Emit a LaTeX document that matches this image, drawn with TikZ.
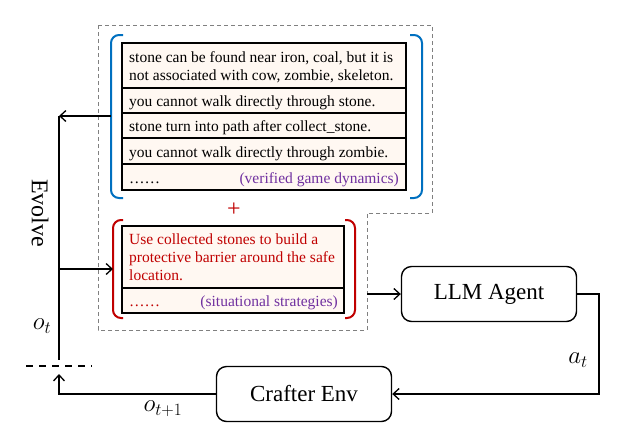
\documentclass[tikz,border=0pt]{standalone}
\usepackage{fontspec}
\setmainfont{Liberation Serif}
\usetikzlibrary{arrows.meta}
\definecolor{bbl}{RGB}{0,112,192}
\definecolor{rrd}{RGB}{192,0,0}
\definecolor{ppl}{RGB}{112,48,160}
\definecolor{cellfill}{RGB}{255,248,242}
\definecolor{dgray}{RGB}{128,128,128}
\begin{document}
\begin{tikzpicture}[x=1pt,y=-1pt,
  cell/.style={draw=black,line width=1.3pt,fill=cellfill},
  rt/.style={anchor=base west,inner sep=0pt,font=\fontsize{15.5}{18}\selectfont},
  rtr/.style={anchor=base east,inner sep=0pt,font=\fontsize{15.5}{18}\selectfont},
  bigbox/.style={draw=black,line width=1.4pt,rounded corners=10pt,minimum width=175pt,minimum height=55pt,font=\fontsize{23}{27}\selectfont},
  conn/.style={line width=1.3pt,-{Straight Barb[length=6pt,width=11pt]}},
  plain/.style={line width=1.3pt},
  lbl/.style={inner sep=0pt,font=\fontsize{25}{30}\selectfont}]
\useasboundingbox (0,0) rectangle (617,437);
% dashed outer region
\draw[dgray,line width=1pt,dash pattern=on 4pt off 3pt] (98,25) -- (432,25) -- (432,213) -- (367,213) -- (367,330) -- (98,330) -- cycle;
% blue table
\draw[cell] (122,43) rectangle (406,190);
\foreach \yy in {88,113,138,164}{\draw[line width=1.3pt] (122,\yy) -- (406,\yy);}
\node[rt] (b1a) at (129,62) {stone can be found near iron, coal, but it is};
\node[rt] (b1b) at (129,80) {not associated with cow, zombie, skeleton.};
\node[rt] (b2) at (129,106) {you cannot walk directly through stone.};
\node[rt] (b3) at (129,131) {stone turn into path after collect\_stone.};
\node[rt] (b4) at (129,157) {you cannot walk directly through zombie.};
\node[rt] (b5) at (129,183) {……};
\node[rtr,text=ppl] (b5r) at (399,183) {(verified game dynamics)};
% blue brackets
\draw[bbl,line width=2pt,rounded corners=8pt] (123,35) -- (111,35) -- (111,198) -- (123,198);
\draw[bbl,line width=2pt,rounded corners=8pt] (410,35) -- (422,35) -- (422,198) -- (410,198);
\coordinate (bl) at (111,116);
% plus
\node[text=rrd,inner sep=0pt,font=\fontsize{24}{28}\selectfont] (plus) at (234,210) {+};
% red table
\draw[cell] (122,226) rectangle (344,313);
\draw[line width=1.3pt] (122,288) -- (344,288);
\node[rt,text=rrd] (r1) at (129,244) {Use collected stones to build a};
\node[rt,text=rrd] (r2) at (129,262) {protective barrier around the safe};
\node[rt,text=rrd] (r3) at (129,280) {location.};
\node[rt,text=rrd] (r4) at (129,306) {……};
\node[rtr,text=ppl] (r4r) at (338,306) {(situational strategies)};
% red brackets
\draw[rrd,line width=2pt,rounded corners=8pt] (123,220) -- (113,220) -- (113,318) -- (123,318);
\draw[rrd,line width=2pt,rounded corners=8pt] (345,220) -- (355,220) -- (355,318) -- (345,318);
\coordinate (rl) at (113,269);
% boxes
\node[bigbox] (llm) at (489,294) {LLM Agent};
\node[bigbox] (env) at (304,394) {Crafter Env};
% left loop
\coordinate (top) at (59,116);
\coordinate (mid) at (59,269);
\coordinate (bot) at (59,360);
\coordinate (envl) at (59,394);
\coordinate (envup) at (59,374);
\draw[plain] (top) -- (bot);
\draw[conn] (bl) -- (top);
\draw[conn] (mid) -- (rl);
\draw[line width=1.3pt,dash pattern=on 7pt off 6pt] (26,366) -- (92,366);
\draw[conn] (env.west) -- (envl) -- (envup);
% agent connections
\coordinate (dr) at (367,294);
\draw[conn] (dr) -- (llm.west);
\coordinate (c1) at (599,294);
\coordinate (c2) at (599,394);
\draw[conn] (llm.east) -- (c1) -- (c2) -- (env.east);
% labels
\node[lbl,rotate=-90,font=\fontsize{24}{28}\selectfont] (evolve) at (40,213) {Evolve};
\node[lbl] (ot) at (42,326) {$o_t$};
\node[lbl] (at) at (578,360) {$a_t$};
\node[lbl] (ot1) at (163,409) {$o_{t+1}$};
\end{tikzpicture}
\end{document}
